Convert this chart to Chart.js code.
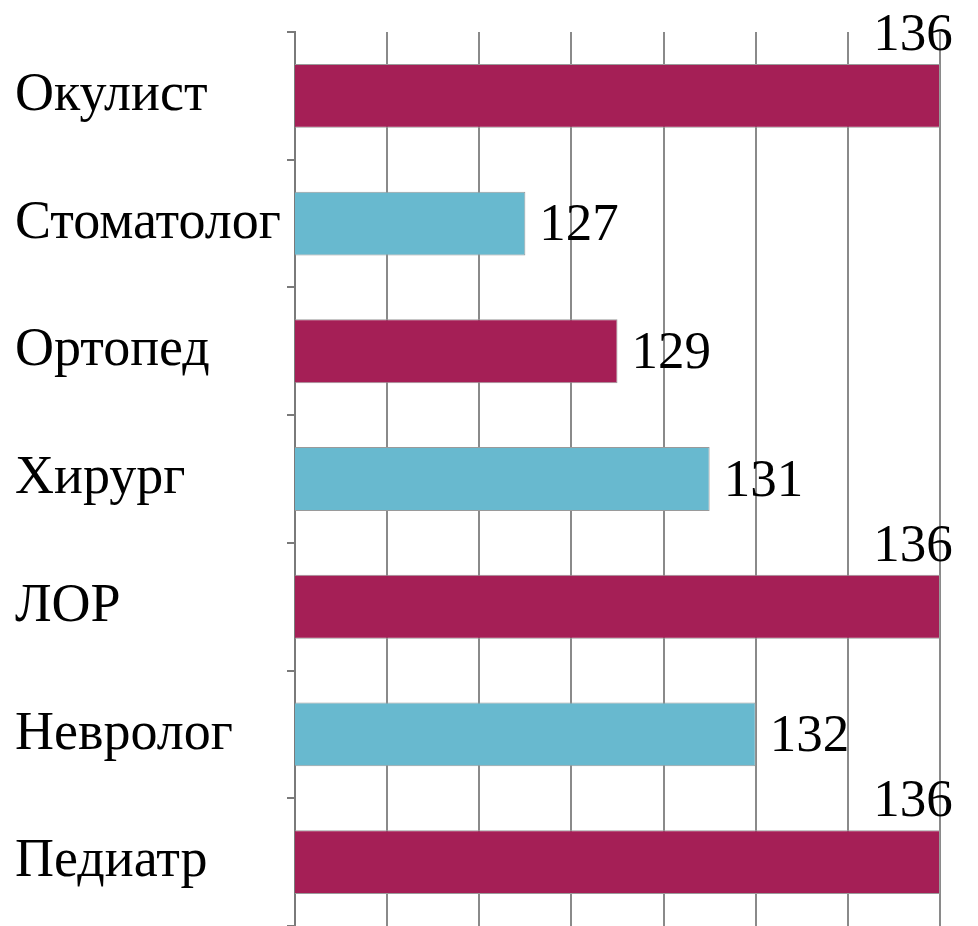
<!doctype html>
<html lang="ru">
  <head>
    <meta charset="utf-8">
    <title>Chart</title>
    <style>
      * { margin: 0; padding: 0; }
      body { background: #fff; overflow: hidden; }
      .chartBox { width: 978px; height: 926px; }
    </style>
  </head>
  <body>
    <div class="chartBox">
      <canvas id="myChart" width="978" height="926"></canvas>
    </div>
    <script src="https://cdn.jsdelivr.net/npm/chart.js"></script>
    <script>
    // data
    const categories = ['Окулист', 'Стоматолог', 'Ортопед', 'Хирург', 'ЛОР', 'Невролог', 'Педиатр'];
    const values = [136, 127, 129, 131, 136, 132, 136];
    const xTicks = [122, 124, 126, 128, 130, 132, 134, 136];

    const magenta = '#a51f56';
    const blue = '#68b9cf';
    const barColors = categories.map((c, i) => i % 2 === 0 ? magenta : blue);
    const font = "'Liberation Serif', 'Times New Roman', serif";

    // value labels, excel-like: moved above the bar when it hits the right edge
    const valueLabels = {
      id: 'valueLabels',
      afterDatasetsDraw(chart) {
        const ctx = chart.ctx;
        const meta = chart.getDatasetMeta(0);
        const xMax = chart.scales.x.max;
        ctx.save();
        ctx.font = '53px ' + font;
        ctx.fillStyle = '#000';
        meta.data.forEach((bar, i) => {
          const v = values[i];
          if (v >= xMax) {
            ctx.textAlign = 'center';
            ctx.textBaseline = 'alphabetic';
            ctx.fillText(v, bar.x - 27, bar.y - bar.height / 2 - 14);
          } else {
            ctx.textAlign = 'left';
            ctx.textBaseline = 'middle';
            ctx.fillText(v, bar.x + 14, bar.y + 3);
          }
        });
        ctx.restore();
      }
    };

    const config = {
      type: 'bar',
      data: {
        labels: categories,
        datasets: [{
          data: values,
          backgroundColor: barColors,
          borderColor: '#9a9a9a',
          borderWidth: 1,
          borderSkipped: false,
          categoryPercentage: 1,
          barPercentage: 0.5
        }]
      },
      options: {
        indexAxis: 'y',
        responsive: false,
        animation: false,
        layout: { padding: { left: 15, right: 38, top: 32, bottom: -2 } },
        plugins: {
          legend: { display: false },
          tooltip: { enabled: false }
        },
        scales: {
          x: {
            min: xTicks[0],
            max: xTicks[xTicks.length - 1],
            afterBuildTicks: (scale) => { scale.ticks = xTicks.map(v => ({ value: v })); },
            afterFit: (scale) => { scale.height = 0; },
            ticks: { display: false },
            grid: { color: '#8a8a8a', lineWidth: 2, drawTicks: false },
            border: { display: false }
          },
          y: {
            afterFit: (scale) => {
              scale.width = 280;
              scale.paddingTop = 0;
              scale.paddingBottom = 0;
            },
            ticks: {
              crossAlign: 'far',
              color: '#000',
              font: { family: font, size: 54 }
            },
            grid: {
              offset: true,
              drawOnChartArea: false,
              tickLength: 8,
              color: '#7a7a7a',
              lineWidth: 2
            },
            border: { color: '#7a7a7a', width: 2 }
          }
        }
      },
      plugins: [valueLabels]
    };

    const myChart = new Chart(document.getElementById('myChart'), config);
    </script>
  </body>
</html>
